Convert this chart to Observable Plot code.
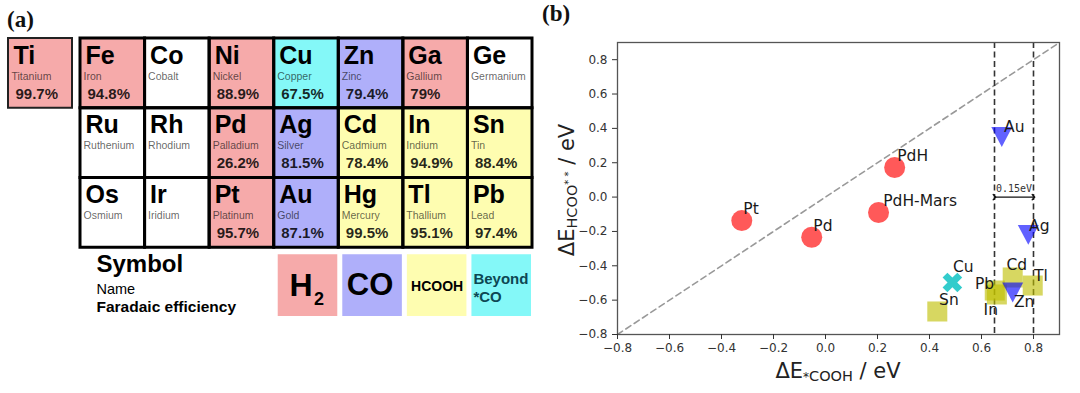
<!DOCTYPE html>
<html><head><meta charset="utf-8">
<script src="https://cdn.jsdelivr.net/npm/d3@7"></script>
<script src="https://cdn.jsdelivr.net/npm/@observablehq/plot@0.6"></script>
<style>
body{margin:0;background:#fff;}
#wrap{position:relative;width:1080px;height:393px;overflow:hidden;background:#fff;}
#pa{position:absolute;left:0;top:0;}
#pb{position:absolute;left:540px;top:0;}
.tag{position:absolute;font-family:"Liberation Serif","DejaVu Serif",serif;font-weight:bold;font-size:23px;line-height:1;color:#111;}
</style></head>
<body>
<div id="wrap"><div id="pa"></div><div id="pb"></div>
<div class="tag" style="left:7px;top:8px">(a)</div>
<div class="tag" style="left:542px;top:2px">(b)</div>
</div>
<script>
// ---------- Panel (a): periodic table data ----------
const symbols = ["Ti","Fe","Co","Ni","Cu","Zn","Ga","Ge","Ru","Rh","Pd","Ag","Cd","In","Sn","Os","Ir","Pt","Au","Hg","Tl","Pb"];
const names = ["Titanium","Iron","Cobalt","Nickel","Copper","Zinc","Gallium","Germanium","Ruthenium","Rhodium","Palladium","Silver","Cadmium","Indium","Tin","Osmium","Iridium","Platinum","Gold","Mercury","Thallium","Lead"];
const groups = [4,8,9,10,11,12,13,14,8,9,10,11,12,13,14,8,9,10,11,12,13,14];
const periods = [4,4,4,4,4,4,4,4,5,5,5,5,5,5,5,6,6,6,6,6,6,6];
const efficiencies = ["99.7%","94.8%","","88.9%","67.5%","79.4%","79%","","","","26.2%","81.5%","78.4%","94.9%","88.4%","","","95.7%","87.1%","99.5%","95.1%","97.4%"];
const products = ["H2","H2","other","H2","Beyond *CO","CO","H2","other","other","other","H2","CO","HCOOH","HCOOH","HCOOH","other","other","H2","CO","HCOOH","HCOOH","HCOOH"];
const productKeys = ["H2","CO","HCOOH","Beyond *CO"];
const keyLines = ["Symbol","Name","Faradaic efficiency"];

// ---------- Panel (b): scatter data ----------
const catalysts = ["Pt","Pd","PdH","PdH-Mars","Au","Ag","Zn","Cu","Sn","Pb","In","Cd","Tl"];
const dE_COOH = [-0.322,-0.053,0.266,0.204,0.678,0.78,0.72,0.488,0.43,0.651,0.659,0.72,0.797];
const dE_HCOO = [-0.137,-0.234,0.172,-0.09,0.35,-0.22,-0.556,-0.497,-0.666,-0.544,-0.567,-0.468,-0.515];
const mainProduct = ["H2","H2","H2","H2","CO","CO","CO","Beyond *CO","HCOOH","HCOOH","HCOOH","HCOOH","HCOOH"];
const labelCOOH = [-0.316,-0.047,0.276,0.222,0.687,0.783,0.725,0.49,0.437,0.575,0.608,0.696,0.802];
const labelHCOO = [-0.1,-0.197,0.209,-0.049,0.378,-0.195,-0.641,-0.437,-0.631,-0.538,-0.689,-0.427,-0.486];
const axisDomain = [-0.8, 0.9];
const axisTicks = [-0.8,-0.6,-0.4,-0.2,0,0.2,0.4,0.6,0.8];
const windowEdges = [0.65, 0.8];
const arrowLevel = 0;

// ---------- build panel (a) ----------
const cells = symbols.map((s,i)=>({symbol:s,name:names[i],fe:efficiencies[i],group:groups[i],period:periods[i],product:products[i]}));
const keyCol = k => 11 + productKeys.indexOf(k);
const sans = "Liberation Sans, Arial, sans-serif";

const plotA = Plot.plot({
  width: 540, height: 393, margin: 0,
  x: {type:"linear", domain:[3,4,7,14], range:[8,72,80,532], axis:null},
  y: {type:"linear", domain:[3,7], range:[38,317], axis:null},
  color: {type:"ordinal", domain:["H2","CO","HCOOH","Beyond *CO","other"], range:["#f6aaaa","#afaffa","#fefdb0","#84f8f8","#ffffff"]},
  style: {fontFamily: sans, background:"white"},
  marks: [
    Plot.rect(cells, {x1:d=>d.group-1, x2:d=>d.group, y1:d=>d.period-1, y2:d=>d.period, fill:"product"}),
    Plot.rect(cells, {filter:d=>d.group>4, x1:d=>d.group-1, x2:d=>d.group, y1:d=>d.period-1, y2:d=>d.period, fill:"none", stroke:"#000", strokeWidth:3}),
    Plot.rect(cells, {filter:d=>d.group===4, x1:d=>d.group-1, x2:d=>d.group, y1:d=>d.period-1, y2:d=>d.period, fill:"none", stroke:"#222", strokeWidth:2}),
    Plot.text(cells, {x:d=>d.group-1, y:d=>d.period-1, text:"symbol", textAnchor:"start", lineAnchor:"bottom", dx:5, dy:25, fontSize:25, fontWeight:"bold", fill:"#000"}),
    Plot.text(cells, {x:d=>d.group-1, y:d=>d.period-1, text:"name", textAnchor:"start", lineAnchor:"bottom", dx:3, dy:41, fontSize:10.5, fill:"#000", fillOpacity:0.62}),
    Plot.text(cells, {x:d=>d.group-1, y:d=>d.period-1, text:"fe", textAnchor:"start", lineAnchor:"bottom", dx:7, dy:60, fontSize:15, fontWeight:"bold", fill:"#000", fillOpacity:0.85}),
    // key boxes
    Plot.rect(productKeys, {x1:d=>keyCol(d)-1, x2:d=>keyCol(d), y1:()=>6, y2:()=>7, fill:d=>d, insetLeft:4, insetRight:1, insetTop:7, insetBottom:1}),
    Plot.text(["H2"], {x:d=>keyCol(d)-0.5, y:()=>6, text:()=>"H", textAnchor:"middle", lineAnchor:"bottom", dx:-5.5, dy:48, fontSize:32, fontWeight:"bold", fill:"#000"}),
    Plot.text(["H2"], {x:d=>keyCol(d)-0.5, y:()=>6, text:()=>"2", textAnchor:"middle", lineAnchor:"bottom", dx:12.5, dy:57, fontSize:18, fontWeight:"bold", fill:"#000"}),
    Plot.text(["CO"], {x:d=>keyCol(d)-0.5, y:()=>6, text:d=>d, textAnchor:"middle", lineAnchor:"bottom", dx:-1, dy:47.5, fontSize:31, fontWeight:"bold", fill:"#000"}),
    Plot.text(["HCOOH"], {x:d=>keyCol(d)-0.5, y:()=>6, text:d=>d, textAnchor:"middle", lineAnchor:"bottom", dx:1.5, dy:43, fontSize:14, fontWeight:"bold", fill:"#000"}),
    Plot.text(["Beyond *CO"], {x:d=>keyCol(d)-1, y:()=>6, text:()=>"Beyond\n*CO", textAnchor:"start", lineAnchor:"bottom", lineHeight:1.23, dx:5.5, dy:54.5, fontSize:15, fontWeight:"bold", fill:"#0d4753"}),
    // key explanation
    Plot.text([keyLines[0]], {x:()=>7, y:()=>6, text:d=>d, textAnchor:"start", lineAnchor:"bottom", dx:16, dy:24.5, fontSize:24, fontWeight:"bold", fill:"#000"}),
    Plot.text([keyLines[1]], {x:()=>7, y:()=>6, text:d=>d, textAnchor:"start", lineAnchor:"bottom", dx:16, dy:46, fontSize:14.5, fill:"#000"}),
    Plot.text([keyLines[2]], {x:()=>7, y:()=>6, text:d=>d, textAnchor:"start", lineAnchor:"bottom", dx:16, dy:64.5, fontSize:15.5, fontWeight:"bold", fill:"#000"})
  ]
});
document.getElementById("pa").appendChild(plotA);

// ---------- build panel (b) ----------
const points = catalysts.map((c,i)=>({name:c,x:dE_COOH[i],y:dE_HCOO[i],product:mainProduct[i],lx:labelCOOH[i],ly:labelHCOO[i]}));
const triangleDown = {draw(ctx,size){const r=Math.sqrt(size/Math.PI);ctx.moveTo(-r,-0.95*r);ctx.lineTo(r,-0.95*r);ctx.lineTo(0,0.95*r);ctx.closePath();}};
const filledX = {draw(ctx,size){const r=Math.sqrt(size/Math.PI),L=r*1.1,w=r*0.36;
  const pts=[[w,w],[w,L],[-w,L],[-w,w],[-L,w],[-L,-w],[-w,-w],[-w,-L],[w,-L],[w,-w],[L,-w],[L,w]].map(([a,b])=>[(a-b)/Math.SQRT2,(a+b)/Math.SQRT2]);
  ctx.moveTo(pts[0][0],pts[0][1]);for(let k=1;k<pts.length;k++)ctx.lineTo(pts[k][0],pts[k][1]);ctx.closePath();}};

const plotB = Plot.plot({
  width: 540, height: 393, marginLeft: 77, marginRight: 21, marginTop: 42, marginBottom: 59,
  x: {domain: axisDomain}, y: {domain: axisDomain},
  style: {fontFamily:"DejaVu Sans, sans-serif", fontSize:"12px", color:"#222", background:"white"},
  marks: [
    Plot.line(axisDomain, {x:d=>d, y:d=>d, stroke:"#999", strokeWidth:1.6, strokeDasharray:"6,4"}),
    Plot.ruleX(windowEdges, {stroke:"#333", strokeWidth:1.6, strokeDasharray:"6,3.5"}),
    Plot.link([windowEdges], {x1:d=>d[0], x2:d=>d[1], y1:()=>arrowLevel, y2:()=>arrowLevel, stroke:"#111", strokeWidth:1.3, markerStart:"arrow", markerEnd:"arrow"}),
    Plot.text([windowEdges], {x:d=>(d[0]+d[1])/2, y:()=>arrowLevel, text:d=>(d[1]-d[0]).toFixed(2)+"eV", lineAnchor:"bottom", dy:-5, fontFamily:"DejaVu Sans Mono, monospace", fontSize:10, fill:"#333"}),
    Plot.dot(points, {filter:d=>d.product==="H2", x:"x", y:"y", r:10.5, symbol:"circle", fill:"red", fillOpacity:0.65}),
    Plot.dot(points, {filter:d=>d.product==="HCOOH", x:"x", y:"y", r:11.3, symbol:"square", fill:"#bfbf00", fillOpacity:0.62}),
    Plot.dot(points, {filter:d=>d.product==="CO", x:"x", y:"y", r:10.5, symbol:triangleDown, fill:"blue", fillOpacity:0.62}),
    Plot.dot(points, {filter:d=>d.product==="Beyond *CO", x:"x", y:"y", r:9.5, symbol:filledX, fill:"#00bfbf", fillOpacity:0.8}),
    Plot.text(points, {x:"lx", y:"ly", text:"name", textAnchor:"start", lineAnchor:"bottom", fontSize:15.5, fill:"#1a1a1a"}),
    Plot.frame({stroke:"#555", strokeWidth:1.3}),
    Plot.axisX({ticks:axisTicks, tickFormat:d3.format(".1f"), tickSize:5, tickPadding:4, label:null, color:"#333", fontSize:12}),
    Plot.axisY({ticks:axisTicks, tickFormat:d3.format(".1f"), tickSize:5, tickPadding:5, label:null, color:"#333", fontSize:12})
  ]
});
document.getElementById("pb").appendChild(plotB);

// axis titles with sub/superscripts
const svgB = d3.select(plotB.tagName.toLowerCase()==="svg" ? plotB : plotB.querySelector("svg"));
const xl = svgB.append("text").attr("x",298).attr("y",378).attr("text-anchor","middle")
  .attr("font-family","DejaVu Sans, sans-serif").attr("font-size",21).attr("fill","#222");
xl.append("tspan").text("ΔE");
xl.append("tspan").attr("font-size",12).attr("dy",3).text("*");
xl.append("tspan").attr("font-size",14.5).text("COOH");
xl.append("tspan").attr("dy",-3).text(" / eV");

const yl = svgB.append("text").attr("transform","translate(34,190) rotate(-90)").attr("text-anchor","middle")
  .attr("font-family","DejaVu Sans, sans-serif").attr("font-size",21).attr("fill","#222");
yl.append("tspan").text("ΔE");
yl.append("tspan").attr("font-size",14.5).attr("dy",3).text("HCOO");
yl.append("tspan").attr("font-size",10).attr("dy",-5).text("* *");
yl.append("tspan").attr("dy",2).text(" / eV");
</script>
</body></html>
